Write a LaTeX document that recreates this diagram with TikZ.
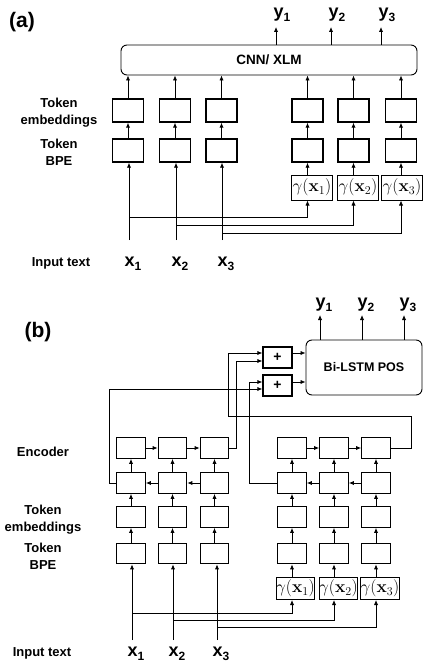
\documentclass[tikz,border=0pt]{standalone}
\usepackage[no-math]{fontspec}
\setmainfont{Liberation Sans}
\usetikzlibrary{arrows.meta}
\newcommand\sublab[2]{#1\raisebox{-0.45ex}{\fontsize{12}{12}\selectfont #2}}
\begin{document}
\begin{tikzpicture}[x=1pt,y=-1pt,
  arr/.style={-{Latex[length=5pt,width=4.2pt]}, line width=0.8pt},
  wire/.style={line width=0.8pt},
  abox/.style={draw, line width=1.3pt, minimum width=31pt, minimum height=23pt, inner sep=0pt},
  bbox/.style={draw, line width=1.2pt, minimum width=28.5pt, minimum height=20.5pt, inner sep=0pt},
  gboxa/.style={draw, line width=1pt, minimum width=41pt, minimum height=25pt, inner sep=0pt, font=\fontsize{18}{18}\selectfont},
  gboxb/.style={draw, line width=1pt, minimum width=38pt, minimum height=22pt, inner sep=0pt, font=\fontsize{16.5}{17}\selectfont},
  lab/.style={font=\fontsize{13}{17}\selectfont\bfseries, align=center},
  vlab/.style={font=\fontsize{18}{18}\selectfont\bfseries, inner sep=0pt},
  plab/.style={font=\fontsize{21}{22}\selectfont\bfseries, inner sep=0pt}]
\useasboundingbox (0,0) rectangle (423,666);

% ================= panel (a) =================
\node[plab] (pa) at (22,22) {(a)};
\node[draw, line width=0.9pt, rounded corners=6pt, minimum width=296pt, minimum height=30pt,
      font=\fontsize{13.5}{15}\selectfont\bfseries] (cnn) at (269,60) {CNN/ XLM};

\foreach \i/\x in {1/128,2/175,3/221.5,4/307.5,5/353.5,6/401}{
  \node[abox] (ae\i) at (\x,110.5) {};
  \node[abox] (ab\i) at (\x,150.5) {};
  \draw[arr] (ae\i.north) -- (ae\i.north |- cnn.south);
  \draw[arr] (ab\i.north) -- (ae\i.south);
}
\node[gboxa] (ag1) at (312,187.5) {$\gamma(\mathbf{x}_1)$};
\node[gboxa] (ag2) at (358,187.5) {$\gamma(\mathbf{x}_2)$};
\node[gboxa] (ag3) at (402,187.5) {$\gamma(\mathbf{x}_3)$};
\draw[arr] (ab4.south |- ag1.north) -- (ab4.south);
\draw[arr] (ab5.south |- ag2.north) -- (ab5.south);
\draw[arr] (ab6.south |- ag3.north) -- (ab6.south);

% outputs
\coordinate (ao1) at (276,27);
\coordinate (ao2) at (331,27);
\coordinate (ao3) at (381,27);
\draw[arr] (ao1 |- cnn.north) -- (ao1);
\draw[arr] (ao2 |- cnn.north) -- (ao2);
\draw[arr] (ao3 |- cnn.north) -- (ao3);
\node[vlab] (ay1) at (282,15) {\sublab{y}{1}};
\node[vlab] (ay2) at (337,15) {\sublab{y}{2}};
\node[vlab] (ay3) at (387,15) {\sublab{y}{3}};

% inputs
\node[vlab] (ax1) at (133,264) {\sublab{x}{1}};
\node[vlab] (ax2) at (180,264) {\sublab{x}{2}};
\node[vlab] (ax3) at (226,264) {\sublab{x}{3}};
\coordinate (as1) at (129,240);
\coordinate (as2) at (176,240);
\coordinate (as3) at (222,240);
\draw[arr] (as1) -- (as1 |- ab1.south);
\draw[arr] (as2) -- (as2 |- ab2.south);
\draw[arr] (as3) -- (as3 |- ab3.south);
\coordinate (aj1) at (129,217);
\coordinate (aj2) at (176,225);
\coordinate (aj3) at (222,233);
\draw[arr] (aj1) -| (ab4.south |- ag1.south);
\draw[arr] (aj2) -| (ab5.south |- ag2.south);
\draw[arr] (aj3) -| (ab6.south |- ag3.south);

% left labels
\node[lab] (laemb) at (59,113) {Token\\embeddings};
\node[lab] (labpe) at (59,152) {Token\\BPE};
\node[lab] (lain) at (61,263) {Input text};

% ================= panel (b) =================
\node[plab] (pb) at (38,332) {(b)};
\node[draw, line width=0.9pt, rounded corners=6pt, minimum width=116pt, minimum height=55pt,
      font=\fontsize{12.5}{14}\selectfont\bfseries] (lstm) at (364,367.5) {Bi-LSTM POS};
\node[draw, line width=1.2pt, minimum width=29pt, minimum height=21pt, inner sep=0pt,
      font=\fontsize{14}{15}\selectfont\bfseries] (pl1) at (277.5,357.5) {+};
\node[draw, line width=1.2pt, minimum width=29pt, minimum height=21pt, inner sep=0pt,
      font=\fontsize{14}{15}\selectfont\bfseries] (pl2) at (277.5,385.5) {+};
\draw[arr] ([yshift=4.5pt]pl1.east) -- ([yshift=4.5pt]pl1.east -| lstm.west);
\draw[arr] ([yshift=3.5pt]pl2.east) -- ([yshift=3.5pt]pl2.east -| lstm.west);

\coordinate (bo1) at (320,315);
\coordinate (bo2) at (362,315);
\coordinate (bo3) at (404,315);
\draw[arr] (bo1 |- lstm.north) -- (bo1);
\draw[arr] (bo2 |- lstm.north) -- (bo2);
\draw[arr] (bo3 |- lstm.north) -- (bo3);
\node[vlab] (by1) at (324,305) {\sublab{y}{1}};
\node[vlab] (by2) at (366,305) {\sublab{y}{2}};
\node[vlab] (by3) at (408,305) {\sublab{y}{3}};

\foreach \i/\x in {1/131,2/172.5,3/214.5,4/292,5/334,6/376}{
  \node[bbox] (bT\i) at (\x,448) {};
  \node[bbox] (bB\i) at (\x,483) {};
  \node[bbox] (bE\i) at (\x,517) {};
  \node[bbox] (bP\i) at (\x,553.5) {};
  \draw[arr] (bB\i.north) -- (bT\i.south);
  \draw[arr] (bE\i.north) -- (bB\i.south);
  \draw[arr] (bP\i.north) -- (bE\i.south);
}
\draw[arr] (bT1.east) -- (bT2.west);
\draw[arr] (bT2.east) -- (bT3.west);
\draw[arr] (bT4.east) -- (bT5.west);
\draw[arr] (bT5.east) -- (bT6.west);
\draw[arr] (bB2.west) -- (bB1.east);
\draw[arr] (bB3.west) -- (bB2.east);
\draw[arr] (bB5.west) -- (bB4.east);
\draw[arr] (bB6.west) -- (bB5.east);

% wiring into the adders
\coordinate (r1) at (411,416);
\coordinate (r2) at (228,416);
\draw[arr] (bT6.east) -| (r1) -- (r2) |- ([yshift=4.5pt]pl1.west);
\draw[arr] (bT3.east) -- ++(7,0) |- ([yshift=-3.5pt]pl1.west);
\draw[arr] (bB4.west) -- ++(-28,0) |- ([yshift=3.5pt]pl2.west);
\draw[arr] (bB1.west) -- ++(-7,0) |- ([yshift=-3.5pt]pl2.west);

% gamma boxes
\node[gboxb] (bg1) at (295.5,588.5) {$\gamma(\mathbf{x}_1)$};
\node[gboxb] (bg2) at (338.5,588.5) {$\gamma(\mathbf{x}_2)$};
\node[gboxb] (bg3) at (380,588.5) {$\gamma(\mathbf{x}_3)$};
\draw[arr] (bP4.south |- bg1.north) -- (bP4.south);
\draw[arr] (bP5.south |- bg2.north) -- (bP5.south);
\draw[arr] (bP6.south |- bg3.north) -- (bP6.south);

% inputs
\node[vlab] (bx1) at (136,654) {\sublab{x}{1}};
\node[vlab] (bx2) at (177,654) {\sublab{x}{2}};
\node[vlab] (bx3) at (221,654) {\sublab{x}{3}};
\coordinate (bs1) at (132,640);
\coordinate (bs2) at (173,640);
\coordinate (bs3) at (217,640);
\draw[arr] (bs1) -- (bs1 |- bP1.south);
\draw[arr] (bs2) -- (bs2 |- bP2.south);
\draw[arr] (bs3) -- (bs3 |- bP3.south);
\coordinate (bj1) at (132,613);
\coordinate (bj2) at (173,620);
\coordinate (bj3) at (217,627);
\draw[arr] (bj1) -| (bP4.south |- bg1.south);
\draw[arr] (bj2) -| (bP5.south |- bg2.south);
\draw[arr] (bj3) -| (bP6.south |- bg3.south);

% left labels
\node[lab] (lbenc) at (43,452) {Encoder};
\node[lab] (lbemb) at (43,520) {Token\\embeddings};
\node[lab] (lbbpe) at (43,556) {Token\\BPE};
\node[lab] (lbin) at (42,653) {Input text};
\end{tikzpicture}
\end{document}
